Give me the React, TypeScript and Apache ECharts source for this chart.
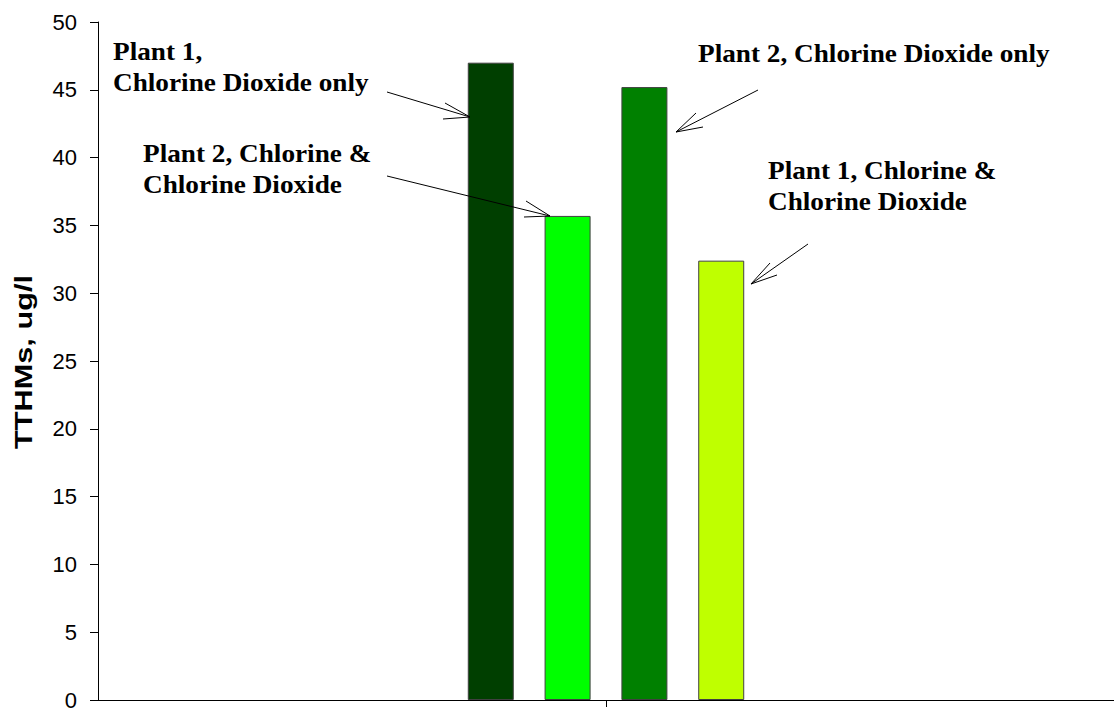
import React, { useEffect, useRef } from "react";
import * as echarts from "echarts";

const categories = [""];
const seriesNames = [
  "Plant 1, Chlorine Dioxide only",
  "Plant 2, Chlorine & Chlorine Dioxide",
  "Plant 2, Chlorine Dioxide only",
  "Plant 1, Chlorine & Chlorine Dioxide",
];
const seriesValues = [47.0, 35.7, 45.2, 32.4];
const seriesColors = ["#003f00", "#00ff00", "#008000", "#bfff00"];
const yTicks = { min: 0, max: 50, interval: 5 };
const yAxisName = "TTHMs, ug/l";

const annotations = [
  { text: "Plant 1,\nChlorine Dioxide only", x: 113, y: 36 },
  { text: "Plant 2, Chlorine &\nChlorine Dioxide", x: 143, y: 138 },
  { text: "Plant 2, Chlorine Dioxide only", x: 698, y: 38 },
  { text: "Plant 1, Chlorine &\nChlorine Dioxide", x: 768, y: 155 },
];

const arrows = [
  { from: [387, 92], to: [470, 117], h1: [445, 103], h2: [443, 119] },
  { from: [387, 176], to: [550, 216], h1: [526, 201], h2: [524, 217] },
  { from: [758, 90], to: [676, 132], h1: [696, 113], h2: [703, 127] },
  { from: [808, 244], to: [751, 284], h1: [770, 263], h2: [777, 275] },
];

export default function App() {
  const ref = useRef<HTMLDivElement>(null);
  useEffect(() => {
    if (!ref.current) return;
    const chart = echarts.init(ref.current, null, { renderer: "svg" });
    const graphics: any[] = [];
    annotations.forEach((a) => {
      graphics.push({
        type: "text",
        x: a.x,
        y: a.y,
        scaleX: 1.09,
        z: 100,
        style: {
          text: a.text,
          fill: "#000",
          fontFamily: "'Liberation Serif', 'Times New Roman', serif",
          fontWeight: "bold",
          fontSize: 25,
          lineHeight: 31,
          align: "left",
          verticalAlign: "top",
        },
      });
    });
    graphics.push({
      type: "text",
      x: 24,
      y: 362,
      rotation: Math.PI / 2,
      scaleX: 1.28,
      z: 100,
      style: {
        text: yAxisName,
        fill: "#000",
        fontFamily: "'Liberation Sans', Arial, sans-serif",
        fontWeight: "bold",
        fontSize: 24,
        align: "center",
        verticalAlign: "middle",
      },
    });
    arrows.forEach((ar) => {
      const ls = { stroke: "#000", lineWidth: 1 };
      graphics.push({
        type: "line",
        z: 100,
        shape: { x1: ar.from[0], y1: ar.from[1], x2: ar.to[0], y2: ar.to[1] },
        style: ls,
      });
      graphics.push({
        type: "polyline",
        z: 100,
        shape: { points: [ar.h1, ar.to, ar.h2] },
        style: { ...ls, fill: null },
      });
    });

    chart.setOption({
      animation: false,
      backgroundColor: "#fff",
      grid: { left: 98, top: 22, width: 1024, height: 682, containLabel: false },
      xAxis: {
        type: "category",
        data: categories,
        axisLine: { show: true, lineStyle: { color: "#000", width: 1 } },
        axisTick: { show: true, alignWithLabel: true, length: 7, lineStyle: { color: "#000" } },
        axisLabel: { show: false },
        splitLine: { show: false },
      },
      yAxis: {
        type: "value",
        min: yTicks.min,
        max: yTicks.max,
        interval: yTicks.interval,
        axisLine: { show: true, lineStyle: { color: "#000", width: 1 } },
        axisTick: { show: true, length: 8, inside: false, lineStyle: { color: "#000" } },
        axisLabel: {
          margin: 21,
          fontFamily: "'Liberation Sans', Arial, sans-serif",
          fontSize: 22,
          color: "#000",
        },
        splitLine: { show: false },
      },
      series: seriesNames.map((name, i) => ({
        name,
        type: "bar",
        data: [seriesValues[i]],
        barWidth: 46,
        barGap: "67%",
        itemStyle: { color: seriesColors[i], borderColor: "#404040", borderWidth: 1 },
      })),
      graphic: graphics,
    });
    return () => chart.dispose();
  }, []);
  return (
    <div
      ref={ref}
      style={{ position: "absolute", left: 0, top: 0, width: 1114, height: 711 }}
    />
  );
}
